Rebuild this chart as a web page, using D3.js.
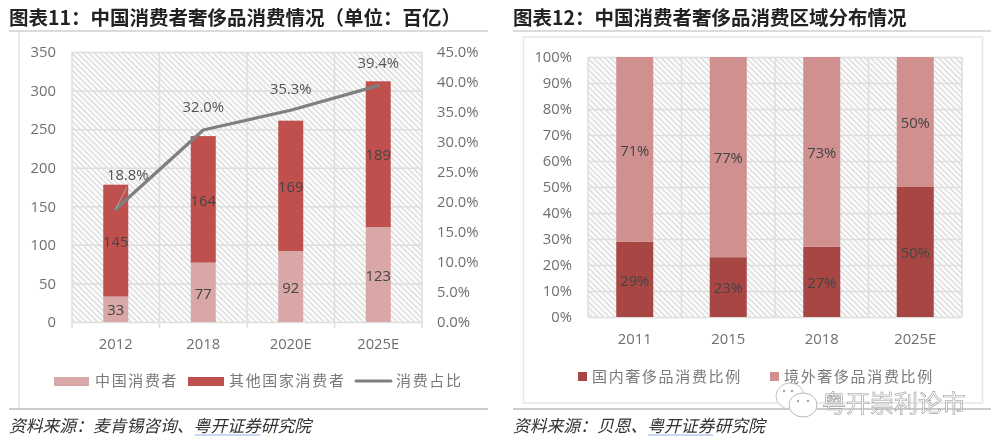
<!DOCTYPE html>
<html>
<head>
<meta charset="utf-8">
<script src="https://cdn.jsdelivr.net/npm/d3@7"></script>
<style>
    html, body { margin: 0; padding: 0; background: #fff; }
    svg { display: block; filter: blur(0.4px); }
    text { font-family: "Open Sans", "Noto Sans CJK SC", sans-serif; }
    .title { font-family: "Noto Sans CJK SC", sans-serif; font-weight: 700; font-size: 19.5px; fill: #222; }
    .source { font-family: "Noto Sans CJK SC", sans-serif; font-style: italic; font-size: 16.8px; fill: #333; }
    .legend { font-family: "Noto Sans CJK SC", sans-serif; font-size: 15px; letter-spacing: 1.65px; fill: #7a7a7a; }
    .tick text, .cat { font-size: 14.8px; fill: #6e6e6e; }
    .value { font-size: 14.8px; fill: #444; text-anchor: middle; }
    .line-label { font-size: 14.8px; fill: #555; text-anchor: middle; }
</style>
</head>
<body>
<div id="chart"></div>
<script>
    // chart 11
    var years_left = ['2012', '2018', '2020E', '2025E'];
    var china_values = [33, 77, 92, 123];
    var other_values = [145, 164, 169, 189];
    var share_values = [18.8, 32.0, 35.3, 39.4];
    var left_ticks = [0, 50, 100, 150, 200, 250, 300, 350];
    var share_ticks = [0, 5, 10, 15, 20, 25, 30, 35, 40, 45];

    // chart 12
    var years_right = ['2011', '2015', '2018', '2025E'];
    var domestic_values = [29, 23, 27, 50];
    var overseas_values = [71, 77, 73, 50];
    var pct_ticks = [0, 10, 20, 30, 40, 50, 60, 70, 80, 90, 100];

    var colours = {
        china: '#d9a7a6',
        other: '#c0504e',
        line: '#7f7f7f',
        domestic: '#a84644',
        overseas: '#d19090',
        grid: '#dedede'
    };

    var svg = d3.select('#chart').append('svg')
        .attr('width', 1000)
        .attr('height', 446);

    svg.append('defs').append('pattern')
        .attr('id', 'hatch')
        .attr('width', 4)
        .attr('height', 4)
        .attr('patternUnits', 'userSpaceOnUse')
        .attr('patternTransform', 'rotate(45)')
      .append('rect')
        .attr('width', 4)
        .attr('height', 1.6)
        .style('fill', '#dcdcdc');

    function rule(x1, x2, y, colour, w) {
        svg.append('line')
            .attr('x1', x1).attr('x2', x2)
            .attr('y1', y).attr('y2', y)
            .style('stroke', colour)
            .style('stroke-width', w);
    }

    // page furniture: titles, rules, frames, sources
    svg.append('text').attr('class', 'title').attr('x', 9).attr('y', 25).text('图表11：中国消费者奢侈品消费情况（单位：百亿）');
    svg.append('text').attr('class', 'title').attr('x', 513).attr('y', 25).text('图表12：中国消费者奢侈品消费区域分布情况');
    rule(9, 488, 31, '#cfcfcf', 1.5);
    rule(513, 991, 31, '#cfcfcf', 1.5);
    rule(9, 488, 409, '#9a9a9a', 1);
    rule(513, 991, 409, '#9a9a9a', 1);
    svg.append('line').attr('x1', 19).attr('x2', 19).attr('y1', 32).attr('y2', 408)
        .style('stroke', '#e4e4e4').style('stroke-width', 1.5);
    svg.append('rect').attr('x', 523.5).attr('y', 37).attr('width', 459).attr('height', 366)
        .style('fill', 'none').style('stroke', '#e6e6e6').style('stroke-width', 1.5);

    svg.append('text').attr('class', 'source').attr('x', 9).attr('y', 432).text('资料来源：麦肯锡咨询、粤开证券研究院');
    svg.append('text').attr('class', 'source').attr('x', 513).attr('y', 432).text('资料来源：贝恩、粤开证券研究院');
    rule(195, 260, 435, '#8fb0e6', 1);
    rule(648, 713, 435, '#8fb0e6', 1);

    function draw_plot(opts) {
        var g = svg.append('g').attr('transform', 'translate(' + opts.x + ',' + opts.y + ')');

        var xScale = d3.scaleBand().domain(opts.cats).range([0, opts.width]).paddingInner(0).paddingOuter(0);
        var yScale = d3.scaleLinear().domain(opts.domain).range([opts.height, 0]);

        g.append('rect')
            .attr('width', opts.width)
            .attr('height', opts.height)
            .style('fill', 'url(#hatch)');

        // vertical gridlines sit on the band edges
        var edges = d3.range(opts.cats.length + 1).map(function(i) { return i * xScale.step(); });
        g.selectAll('.vgrid').data(edges).enter().append('line')
            .attr('class', 'vgrid')
            .attr('x1', function(d) { return d; })
            .attr('x2', function(d) { return d; })
            .attr('y1', 0)
            .attr('y2', opts.height + opts.tick_len)
            .style('stroke', colours.grid)
            .style('stroke-width', 1.5);

        var yAxis = d3.axisLeft(yScale)
            .tickValues(opts.ticks)
            .tickFormat(opts.format)
            .tickSizeInner(-opts.width)
            .tickSizeOuter(0)
            .tickPadding(opts.pad);
        var y_elem = g.append('g').call(yAxis);
        y_elem.select('.domain').remove();
        y_elem.selectAll('.tick line').style('stroke', colours.grid).style('stroke-width', 1.5);

        // stacks
        var base = opts.cats.map(function() { return 0; });
        opts.series.forEach(function(s) {
            var starts = base.slice();
            g.selectAll('.bar-' + s.name).data(s.values).enter().append('rect')
                .attr('class', 'bar-' + s.name)
                .attr('x', function(d, i) { return xScale(opts.cats[i]) + (xScale.step() - opts.bar_width) / 2; })
                .attr('width', opts.bar_width)
                .attr('y', function(d, i) { return yScale(starts[i] + d); })
                .attr('height', function(d) { return opts.height - yScale(d); })
                .style('fill', s.colour);
            g.selectAll('.value-' + s.name).data(s.values).enter().append('text')
                .attr('class', 'value')
                .attr('x', function(d, i) { return xScale(opts.cats[i]) + xScale.step() / 2; })
                .attr('y', function(d, i) { return yScale(starts[i] + d / 2); })
                .attr('dy', '.42em')
                .text(function(d) { return d + s.suffix; });
            s.values.forEach(function(d, i) { base[i] += d; });
        });

        g.selectAll('.cat').data(opts.cats).enter().append('text')
            .attr('class', 'cat')
            .attr('text-anchor', 'middle')
            .attr('x', function(d) { return xScale(d) + xScale.step() / 2; })
            .attr('y', opts.height + opts.cat_off)
            .text(function(d) { return d; });

        return {g: g, x: xScale, y: yScale};
    }

    var left_plot = draw_plot({
        x: 72, y: 52, width: 350, height: 270,
        cats: years_left,
        domain: [0, 350],
        ticks: left_ticks,
        format: function(d) { return d; },
        pad: 16,
        tick_len: 6,
        cat_off: 27,
        bar_width: 25,
        series: [
            {name: 'china', values: china_values, colour: colours.china, suffix: ''},
            {name: 'other', values: other_values, colour: colours.other, suffix: ''}
        ]
    });

    draw_plot({
        x: 588, y: 57, width: 374, height: 260,
        cats: years_right,
        domain: [0, 100],
        ticks: pct_ticks,
        format: function(d) { return d + '%'; },
        pad: 16,
        tick_len: 0,
        cat_off: 27,
        bar_width: 37,
        series: [
            {name: 'domestic', values: domestic_values, colour: colours.domestic, suffix: '%'},
            {name: 'overseas', values: overseas_values, colour: colours.overseas, suffix: '%'}
        ]
    });

    // share line on its own right axis
    var shareScale = d3.scaleLinear().domain([0, 45]).range([270, 0]);
    var shareAxis = d3.axisRight(shareScale)
        .tickValues(share_ticks)
        .tickFormat(function(d) { return d.toFixed(1) + '%'; })
        .tickSize(0)
        .tickPadding(15);
    var share_elem = left_plot.g.append('g')
        .attr('transform', 'translate(350,0)')
        .call(shareAxis);
    share_elem.select('.domain').remove();

    function share_x(i) {
        return left_plot.x(years_left[i]) + left_plot.x.step() / 2;
    }

    var share_line = d3.line()
        .x(function(d, i) { return share_x(i); })
        .y(function(d) { return shareScale(d); });

    left_plot.g.append('path')
        .attr('d', share_line(share_values))
        .style('fill', 'none')
        .style('stroke', colours.line)
        .style('stroke-width', 3.2)
        .style('stroke-linecap', 'round')
        .style('stroke-linejoin', 'round');

    // first label is pushed aside in the original, with a thin leader
    var label_off = [[12, -35], [0, -23], [0, -22], [0, -23]];
    left_plot.g.append('line')
        .attr('x1', share_x(0))
        .attr('y1', shareScale(share_values[0]))
        .attr('x2', share_x(0) + 11)
        .attr('y2', shareScale(share_values[0]) - 22)
        .style('stroke', '#a9a9a9')
        .style('stroke-width', 1);
    left_plot.g.selectAll('.line-label').data(share_values).enter().append('text')
        .attr('class', 'line-label')
        .attr('x', function(d, i) { return share_x(i) + label_off[i][0]; })
        .attr('y', function(d, i) { return shareScale(d) + label_off[i][1]; })
        .attr('dy', '.36em')
        .text(function(d) { return d.toFixed(1) + '%'; });

    // legends
    function swatch(x, y, w, h, colour) {
        svg.append('rect').attr('x', x).attr('y', y).attr('width', w).attr('height', h).style('fill', colour);
    }
    function legend_text(x, y, str) {
        svg.append('text').attr('class', 'legend').attr('x', x).attr('y', y).text(str);
    }
    swatch(54, 377, 35, 9, colours.china);
    legend_text(95, 386, '中国消费者');
    swatch(188, 377, 36, 9, colours.other);
    legend_text(229, 386, '其他国家消费者');
    svg.append('line').attr('x1', 356).attr('x2', 391).attr('y1', 381).attr('y2', 381)
        .style('stroke', colours.line).style('stroke-width', 3).style('stroke-linecap', 'round');
    legend_text(396, 386, '消费占比');

    swatch(578, 372, 9, 9, colours.domestic);
    legend_text(592, 382, '国内奢侈品消费比例');
    swatch(770, 372, 9, 9, colours.overseas);
    legend_text(784, 382, '境外奢侈品消费比例');

    // watermark
    var wm = svg.append('g');
    wm.append('ellipse').attr('cx', 790).attr('cy', 396).attr('rx', 14).attr('ry', 13)
        .style('fill', '#fff').style('stroke', '#c4c4c4').style('stroke-width', 1);
    wm.append('ellipse').attr('cx', 803).attr('cy', 405).attr('rx', 14).attr('ry', 12)
        .style('fill', '#fff').style('stroke', '#b8b8b8').style('stroke-width', 1);
    [[784, 391], [792, 391], [798, 401], [808, 401]].forEach(function(p) {
        wm.append('circle').attr('cx', p[0]).attr('cy', p[1]).attr('r', 1.2).style('fill', '#a5a5a5');
    });
    wm.append('text')
        .attr('x', 822)
        .attr('y', 412)
        .style('font-family', '"Noto Sans CJK SC", sans-serif')
        .style('font-size', '24px')
        .style('fill', '#fff')
        .style('fill-opacity', 0.6)
        .style('stroke', '#999')
        .style('stroke-width', 0.6)
        .text('粤开崇利论市');
</script>
</body>
</html>
